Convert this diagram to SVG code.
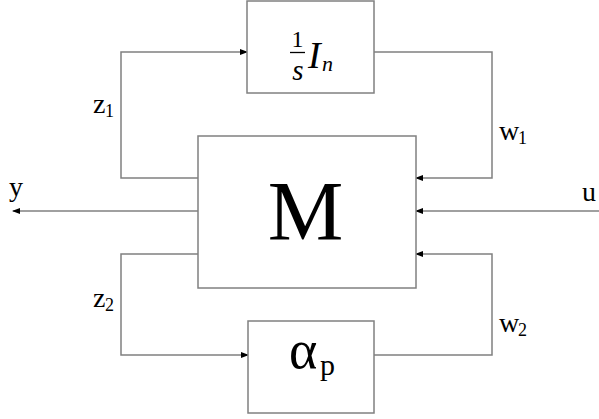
<svg xmlns="http://www.w3.org/2000/svg" width="599" height="419" viewBox="0 0 599 419">
<style>
.box{fill:#fff;stroke:#808080;stroke-width:1.5}
.ln{fill:none;stroke:#808080;stroke-width:1.5}
.arr{marker-end:url(#ah)}
text{font-family:"Liberation Serif","Times New Roman",serif;fill:#000}
.lbl{font-size:28px}
.sub{font-size:18px}
</style>
<defs>
<marker id="ah" markerWidth="8" markerHeight="6" refX="7" refY="3" orient="auto" markerUnits="userSpaceOnUse">
<path d="M0,0 L8,3 L0,6 Z" fill="#000"/>
</marker>
</defs>
<g id="connectors">
<path class="ln arr" d="M198,178 H121 V52 H247"/>
<path class="ln arr" d="M374,52 H492 V178 H416"/>
<path class="ln arr" d="M198,254 H121 V355 H248"/>
<path class="ln arr" d="M374,355 H492 V254 H416"/>
<path class="ln arr" d="M198,211 H13"/>
<path class="ln arr" d="M599,211 H416"/>
</g>
<g id="integrator">
<rect class="box" x="247" y="1" width="127" height="92"/>
<text x="297.5" y="47" font-size="24" text-anchor="middle">1</text>
<line x1="290" y1="52.5" x2="305" y2="52.5" stroke="#000" stroke-width="1.3"/>
<text x="298" y="80" font-size="29" font-style="italic" text-anchor="middle">s</text>
<text x="308" y="68" font-size="38" font-style="italic">I</text>
<text x="322" y="71" font-size="22" font-style="italic">n</text>
</g>
<g id="M">
<rect class="box" x="198" y="136" width="218" height="152"/>
<text x="305.5" y="240" font-size="85" text-anchor="middle">M</text>
</g>
<g id="alpha">
<rect class="box" x="248" y="321" width="126" height="92"/>
<text x="289" y="368" font-size="54">α</text>
<text x="320" y="375" font-size="30">p</text>
</g>
<g id="labels">
<text class="lbl" x="93" y="113">z</text><text class="sub" x="105" y="117">1</text>
<text class="lbl" x="499" y="140">w</text><text class="sub" x="518" y="144">1</text>
<text class="lbl" x="93" y="307">z</text><text class="sub" x="105" y="311">2</text>
<text class="lbl" x="499" y="332">w</text><text class="sub" x="518" y="336">2</text>
<text class="lbl" x="9" y="196">y</text>
<text class="lbl" x="582" y="201">u</text>
</g>
</svg>
